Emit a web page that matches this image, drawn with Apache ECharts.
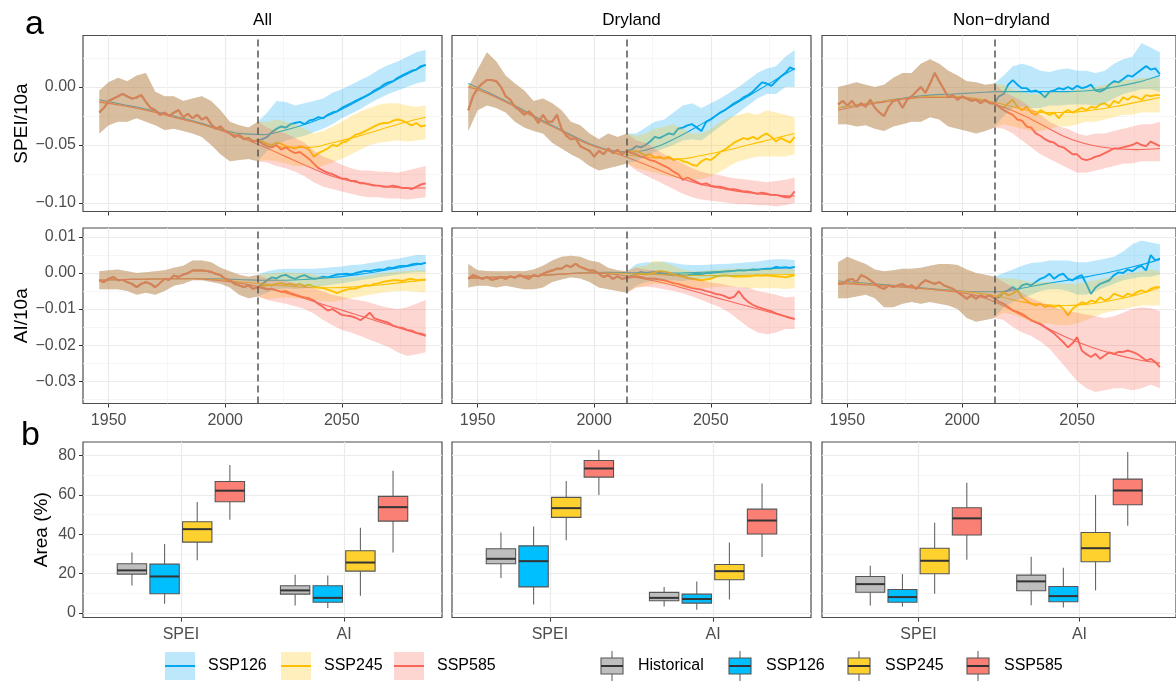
<!DOCTYPE html>
<html>
<head>
<meta charset="utf-8">
<script src="https://cdn.jsdelivr.net/npm/echarts@6.0.0/dist/echarts.min.js"></script>
<style>
html, body { margin: 0; padding: 0; background: #fff; }
#chart { width: 1176px; height: 682px; }
</style>
</head>
<body>
<div id="chart"></div>
<script>
// ---- years ----
const histYears = [1946,1948,1950,1952,1954,1956,1958,1960,1962,1964,1966,1968,1970,1972,1974,1976,1978,1980,1982,1984,1986,1988,1990,1992,1994,1996,1998,2000,2002,2004,2006,2008,2010,2012,2014];
const futYears = [2016,2018,2020,2022,2024,2026,2028,2030,2032,2034,2036,2038,2040,2042,2044,2046,2048,2050,2052,2054,2056,2058,2060,2062,2064,2066,2068,2070,2072,2074,2076,2078,2080,2082,2084,2086];
const histYears4 = [1946,1950,1954,1958,1962,1966,1970,1974,1978,1982,1986,1990,1994,1998,2002,2006,2010,2014];
const futYears4 = [2018,2022,2026,2030,2034,2038,2042,2046,2050,2054,2058,2062,2066,2070,2074,2078,2082,2086];
const smoothYears = [1946,1956,1966,1976,1986,1996,2006,2016,2026,2036,2046,2056,2066,2076,2086];
const scenarios = ['SSP126', 'SSP245', 'SSP585'];
const boxGroups = ['Historical', 'SSP126', 'SSP245', 'SSP585'];
const boxCats = ['SPEI', 'AI'];
const regions = ['All', 'Dryland', 'Non\u2212dryland'];

// ---- All / SPEI ----
const allSpeiHist = [-0.022,-0.018,-0.012,-0.010,-0.008,-0.006,-0.008,-0.010,-0.009,-0.007,-0.013,-0.018,-0.020,-0.024,-0.022,-0.025,-0.022,-0.020,-0.026,-0.023,-0.027,-0.024,-0.028,-0.026,-0.032,-0.036,-0.034,-0.038,-0.040,-0.043,-0.041,-0.045,-0.044,-0.047,-0.046];
const allSpeiHistLo = [-0.040,-0.033,-0.030,-0.030,-0.027,-0.030,-0.033,-0.037,-0.036,-0.038,-0.040,-0.043,-0.050,-0.058,-0.064,-0.063,-0.062,-0.064];
const allSpeiHistHi = [-0.003,0.004,0.008,0.005,0.010,0.012,-0.004,-0.008,-0.008,-0.012,-0.010,-0.008,-0.012,-0.020,-0.030,-0.033,-0.035,-0.030];
const allSpei126 = [-0.045,-0.043,-0.039,-0.036,-0.034,-0.035,-0.032,-0.031,-0.030,-0.032,-0.029,-0.028,-0.026,-0.027,-0.024,-0.022,-0.021,-0.018,-0.016,-0.014,-0.012,-0.010,-0.008,-0.006,-0.003,-0.001,0.002,0.004,0.005,0.008,0.010,0.012,0.014,0.015,0.018,0.019];
const allSpei126Lo = [-0.055,-0.050,-0.046,-0.044,-0.042,-0.039,-0.036,-0.032,-0.027,-0.023,-0.019,-0.014,-0.010,-0.006,-0.003,0.000,0.003,0.005];
const allSpei126Hi = [-0.022,-0.012,-0.013,-0.016,-0.014,-0.012,-0.010,-0.005,-0.002,0.002,0.006,0.010,0.015,0.019,0.022,0.026,0.030,0.032];
const allSpei245 = [-0.047,-0.049,-0.050,-0.048,-0.049,-0.051,-0.052,-0.053,-0.051,-0.052,-0.054,-0.060,-0.057,-0.055,-0.053,-0.050,-0.051,-0.048,-0.047,-0.044,-0.041,-0.040,-0.038,-0.036,-0.034,-0.032,-0.031,-0.031,-0.029,-0.028,-0.029,-0.031,-0.033,-0.031,-0.034,-0.033];
const allSpei245Lo = [-0.063,-0.064,-0.066,-0.068,-0.068,-0.070,-0.068,-0.065,-0.062,-0.058,-0.054,-0.050,-0.048,-0.047,-0.046,-0.047,-0.046,-0.045];
const allSpei245Hi = [-0.030,-0.028,-0.030,-0.032,-0.036,-0.040,-0.038,-0.034,-0.030,-0.025,-0.021,-0.018,-0.015,-0.014,-0.014,-0.016,-0.017,-0.016];
const allSpei585 = [-0.049,-0.051,-0.052,-0.050,-0.054,-0.052,-0.055,-0.057,-0.056,-0.059,-0.062,-0.066,-0.070,-0.072,-0.074,-0.075,-0.077,-0.079,-0.079,-0.081,-0.081,-0.083,-0.083,-0.084,-0.085,-0.085,-0.086,-0.086,-0.085,-0.086,-0.087,-0.087,-0.088,-0.086,-0.084,-0.083];
const allSpei585Lo = [-0.065,-0.068,-0.070,-0.073,-0.077,-0.082,-0.086,-0.088,-0.090,-0.092,-0.094,-0.095,-0.095,-0.096,-0.096,-0.097,-0.096,-0.095];
const allSpei585Hi = [-0.035,-0.038,-0.040,-0.044,-0.048,-0.055,-0.060,-0.063,-0.067,-0.070,-0.072,-0.072,-0.073,-0.073,-0.074,-0.072,-0.070,-0.068];
const allSpeiS126 = [-0.011,-0.015,-0.019,-0.024,-0.029,-0.035,-0.040,-0.041,-0.037,-0.031,-0.023,-0.013,-0.002,0.009,0.019];
const allSpeiS245 = [-0.012,-0.016,-0.020,-0.025,-0.030,-0.036,-0.042,-0.048,-0.052,-0.052,-0.048,-0.043,-0.037,-0.031,-0.026];
const allSpeiS585 = [-0.013,-0.016,-0.020,-0.025,-0.030,-0.036,-0.043,-0.051,-0.060,-0.069,-0.077,-0.082,-0.085,-0.087,-0.087];

// ---- Dryland / SPEI ----
const drySpeiHist = [-0.020,-0.008,-0.001,0.003,0.006,0.006,0.005,0.000,-0.008,-0.011,-0.017,-0.020,-0.024,-0.021,-0.025,-0.031,-0.024,-0.030,-0.030,-0.024,-0.036,-0.042,-0.045,-0.044,-0.051,-0.053,-0.055,-0.060,-0.055,-0.058,-0.053,-0.057,-0.054,-0.058,-0.055];
const drySpeiHistLo = [-0.038,-0.020,-0.016,-0.018,-0.022,-0.030,-0.035,-0.038,-0.040,-0.048,-0.053,-0.058,-0.062,-0.068,-0.072,-0.070,-0.068,-0.066];
const drySpeiHistHi = [0.000,0.015,0.030,0.022,0.010,0.003,-0.003,-0.012,-0.010,-0.014,-0.020,-0.030,-0.033,-0.040,-0.045,-0.040,-0.043,-0.040];
const drySpei126 = [-0.054,-0.051,-0.052,-0.050,-0.047,-0.043,-0.044,-0.042,-0.040,-0.041,-0.036,-0.035,-0.033,-0.032,-0.035,-0.038,-0.030,-0.028,-0.025,-0.022,-0.020,-0.017,-0.014,-0.012,-0.009,-0.007,-0.004,0.000,0.004,0.003,0.001,0.005,0.009,0.012,0.017,0.015];
const drySpei126Lo = [-0.064,-0.060,-0.056,-0.053,-0.050,-0.046,-0.045,-0.046,-0.040,-0.034,-0.028,-0.022,-0.016,-0.010,-0.006,-0.006,0.000,0.000];
const drySpei126Hi = [-0.040,-0.035,-0.030,-0.028,-0.022,-0.016,-0.014,-0.018,-0.014,-0.010,-0.005,0.000,0.006,0.012,0.016,0.018,0.026,0.032];
const drySpei245 = [-0.056,-0.055,-0.057,-0.059,-0.058,-0.061,-0.060,-0.062,-0.060,-0.063,-0.062,-0.064,-0.065,-0.067,-0.068,-0.064,-0.062,-0.063,-0.060,-0.056,-0.054,-0.051,-0.048,-0.046,-0.044,-0.045,-0.043,-0.045,-0.042,-0.040,-0.043,-0.047,-0.044,-0.046,-0.048,-0.043];
const drySpei245Lo = [-0.070,-0.072,-0.074,-0.076,-0.078,-0.079,-0.080,-0.079,-0.077,-0.073,-0.068,-0.064,-0.062,-0.060,-0.060,-0.060,-0.060,-0.058];
const drySpei245Hi = [-0.042,-0.040,-0.036,-0.034,-0.032,-0.036,-0.040,-0.040,-0.036,-0.030,-0.026,-0.024,-0.022,-0.024,-0.020,-0.022,-0.024,-0.026];
const drySpei585 = [-0.057,-0.058,-0.060,-0.061,-0.063,-0.064,-0.066,-0.068,-0.070,-0.073,-0.075,-0.080,-0.078,-0.080,-0.082,-0.084,-0.083,-0.085,-0.086,-0.086,-0.087,-0.088,-0.088,-0.089,-0.090,-0.090,-0.091,-0.092,-0.091,-0.092,-0.093,-0.093,-0.094,-0.095,-0.095,-0.090];
const drySpei585Lo = [-0.072,-0.076,-0.080,-0.084,-0.088,-0.092,-0.095,-0.097,-0.098,-0.099,-0.100,-0.101,-0.101,-0.102,-0.102,-0.103,-0.102,-0.100];
const drySpei585Hi = [-0.046,-0.048,-0.053,-0.058,-0.062,-0.066,-0.070,-0.073,-0.075,-0.076,-0.078,-0.079,-0.080,-0.081,-0.082,-0.081,-0.080,-0.078];
const drySpeiS126 = [0.003,-0.006,-0.016,-0.027,-0.037,-0.047,-0.054,-0.056,-0.052,-0.043,-0.032,-0.020,-0.008,0.004,0.016];
const drySpeiS245 = [0.001,-0.007,-0.017,-0.028,-0.038,-0.048,-0.055,-0.059,-0.061,-0.062,-0.059,-0.055,-0.050,-0.045,-0.040];
const drySpeiS585 = [0.000,-0.007,-0.017,-0.028,-0.038,-0.048,-0.055,-0.062,-0.070,-0.078,-0.084,-0.088,-0.091,-0.093,-0.094];

// ---- Non-dryland / SPEI ----
const nonSpeiHist = [-0.015,-0.012,-0.016,-0.012,-0.017,-0.014,-0.017,-0.011,-0.018,-0.022,-0.025,-0.017,-0.012,-0.011,-0.018,-0.011,-0.008,-0.004,0.000,-0.005,0.003,0.012,0.005,-0.002,-0.009,-0.007,-0.011,-0.008,-0.010,-0.012,-0.011,-0.014,-0.011,-0.014,-0.014];
const nonSpeiHistLo = [-0.032,-0.032,-0.034,-0.033,-0.036,-0.038,-0.034,-0.032,-0.030,-0.030,-0.026,-0.028,-0.034,-0.036,-0.038,-0.040,-0.038,-0.035];
const nonSpeiHistHi = [0.000,0.002,0.004,0.002,0.000,0.002,0.008,0.012,0.012,0.020,0.024,0.020,0.014,0.010,0.005,0.004,0.002,0.003];
const nonSpei126 = [-0.008,-0.006,0.002,0.006,0.002,-0.001,-0.001,-0.004,-0.003,-0.005,-0.009,-0.004,-0.003,-0.001,-0.002,0.000,-0.002,0.001,-0.001,0.000,0.002,-0.003,-0.004,-0.002,0.002,0.005,0.004,0.007,0.010,0.009,0.012,0.015,0.018,0.015,0.016,0.011];
const nonSpei126Lo = [-0.025,-0.018,-0.017,-0.018,-0.018,-0.016,-0.016,-0.015,-0.015,-0.015,-0.016,-0.014,-0.010,-0.006,-0.004,-0.002,-0.002,-0.004];
const nonSpei126Hi = [0.010,0.018,0.020,0.018,0.014,0.013,0.015,0.016,0.014,0.014,0.012,0.014,0.020,0.024,0.026,0.038,0.034,0.030];
const nonSpei245 = [-0.017,-0.018,-0.014,-0.011,-0.017,-0.020,-0.017,-0.022,-0.024,-0.020,-0.022,-0.024,-0.022,-0.027,-0.022,-0.020,-0.022,-0.020,-0.018,-0.020,-0.017,-0.018,-0.015,-0.014,-0.017,-0.012,-0.014,-0.009,-0.011,-0.008,-0.009,-0.011,-0.007,-0.008,-0.007,-0.007];
const nonSpei245Lo = [-0.032,-0.034,-0.036,-0.038,-0.038,-0.036,-0.034,-0.034,-0.032,-0.030,-0.030,-0.028,-0.026,-0.024,-0.024,-0.022,-0.022,-0.022];
const nonSpei245Hi = [0.002,-0.002,-0.004,-0.006,-0.006,-0.004,-0.004,-0.004,-0.002,-0.002,0.000,0.002,0.004,0.006,0.006,0.008,0.008,0.008];
const nonSpei585 = [-0.017,-0.020,-0.022,-0.024,-0.028,-0.029,-0.034,-0.035,-0.040,-0.042,-0.045,-0.047,-0.048,-0.051,-0.052,-0.055,-0.058,-0.058,-0.062,-0.063,-0.062,-0.060,-0.059,-0.057,-0.055,-0.053,-0.053,-0.052,-0.051,-0.050,-0.048,-0.050,-0.051,-0.047,-0.049,-0.051];
const nonSpei585Lo = [-0.036,-0.040,-0.046,-0.052,-0.058,-0.062,-0.066,-0.070,-0.074,-0.074,-0.072,-0.070,-0.068,-0.066,-0.066,-0.064,-0.064,-0.064];
const nonSpei585Hi = [-0.004,-0.008,-0.012,-0.018,-0.024,-0.030,-0.034,-0.036,-0.040,-0.042,-0.040,-0.040,-0.038,-0.036,-0.034,-0.032,-0.032,-0.030];
const nonSpeiS126 = [-0.018,-0.015,-0.012,-0.009,-0.007,-0.006,-0.005,-0.004,-0.004,-0.004,-0.004,-0.003,0.000,0.004,0.010];
const nonSpeiS245 = [-0.018,-0.015,-0.012,-0.010,-0.008,-0.008,-0.010,-0.014,-0.019,-0.022,-0.022,-0.020,-0.017,-0.013,-0.009];
const nonSpeiS585 = [-0.020,-0.016,-0.013,-0.010,-0.009,-0.009,-0.011,-0.016,-0.024,-0.034,-0.044,-0.050,-0.053,-0.054,-0.053];

// ---- All / AI ----
const allAiHist = [-0.0020,-0.0025,-0.0016,-0.0011,-0.0020,-0.0019,-0.0025,-0.0030,-0.0039,-0.0030,-0.0025,-0.0030,-0.0039,-0.0028,-0.0016,-0.0019,-0.0007,-0.0011,-0.0004,0.0000,0.0007,0.0007,0.0007,0.0006,0.0003,-0.0002,-0.0006,-0.0016,-0.0020,-0.0030,-0.0034,-0.0039,-0.0034,-0.0044,-0.0039];
const allAiHistLo = [-0.0045,-0.0045,-0.0045,-0.0050,-0.0060,-0.0055,-0.0060,-0.0050,-0.0035,-0.0030,-0.0020,-0.0020,-0.0025,-0.0030,-0.0040,-0.0060,-0.0070,-0.0065];
const allAiHistHi = [0.0005,0.0008,0.0010,0.0005,0.0000,0.0002,0.0005,0.0008,0.0015,0.0020,0.0035,0.0035,0.0030,0.0015,0.0005,-0.0005,-0.0010,-0.0005];
const allAi126 = [-0.0030,-0.0020,-0.0012,-0.0015,-0.0008,-0.0005,-0.0012,-0.0016,-0.0010,-0.0006,-0.0012,-0.0016,-0.0014,-0.0010,-0.0012,-0.0008,-0.0004,-0.0003,-0.0002,-0.0004,0.0000,0.0003,0.0006,0.0005,0.0008,0.0010,0.0009,0.0015,0.0014,0.0018,0.0020,0.0020,0.0024,0.0026,0.0025,0.0029];
const allAi126Lo = [-0.0055,-0.0045,-0.0042,-0.0044,-0.0042,-0.0040,-0.0036,-0.0032,-0.0028,-0.0024,-0.0020,-0.0016,-0.0012,-0.0008,-0.0004,0.0000,0.0002,0.0002];
const allAi126Hi = [0.0005,0.0010,0.0012,0.0012,0.0012,0.0012,0.0014,0.0016,0.0018,0.0022,0.0024,0.0028,0.0032,0.0036,0.0040,0.0045,0.0050,0.0050];
const allAi245 = [-0.0036,-0.0034,-0.0034,-0.0030,-0.0028,-0.0032,-0.0030,-0.0034,-0.0030,-0.0036,-0.0032,-0.0038,-0.0040,-0.0042,-0.0046,-0.0050,-0.0056,-0.0050,-0.0046,-0.0044,-0.0043,-0.0038,-0.0034,-0.0035,-0.0030,-0.0028,-0.0024,-0.0022,-0.0020,-0.0020,-0.0022,-0.0018,-0.0016,-0.0020,-0.0019,-0.0018];
const allAi245Lo = [-0.0072,-0.0070,-0.0068,-0.0070,-0.0072,-0.0075,-0.0078,-0.0080,-0.0075,-0.0070,-0.0065,-0.0060,-0.0056,-0.0052,-0.0050,-0.0050,-0.0052,-0.0055];
const allAi245Hi = [-0.0002,0.0000,0.0002,0.0000,0.0000,-0.0004,-0.0010,-0.0014,-0.0014,-0.0012,-0.0010,-0.0006,-0.0002,0.0002,0.0004,0.0006,0.0008,0.0008];
const allAi585 = [-0.0042,-0.0046,-0.0043,-0.0048,-0.0052,-0.0050,-0.0056,-0.0060,-0.0064,-0.0068,-0.0070,-0.0076,-0.0086,-0.0094,-0.0104,-0.0100,-0.0108,-0.0116,-0.0118,-0.0120,-0.0124,-0.0131,-0.0122,-0.0110,-0.0126,-0.0130,-0.0134,-0.0138,-0.0146,-0.0150,-0.0152,-0.0158,-0.0160,-0.0166,-0.0168,-0.0173];
const allAi585Lo = [-0.0075,-0.0080,-0.0085,-0.0092,-0.0100,-0.0112,-0.0130,-0.0145,-0.0158,-0.0165,-0.0175,-0.0185,-0.0195,-0.0205,-0.0220,-0.0230,-0.0225,-0.0220];
const allAi585Hi = [-0.0015,-0.0018,-0.0022,-0.0028,-0.0034,-0.0042,-0.0052,-0.0060,-0.0066,-0.0072,-0.0076,-0.0082,-0.0090,-0.0096,-0.0100,-0.0095,-0.0085,-0.0075];
const allAiS126 = [-0.0020,-0.0018,-0.0017,-0.0016,-0.0015,-0.0016,-0.0018,-0.0020,-0.0020,-0.0017,-0.0012,-0.0005,0.0005,0.0016,0.0028];
const allAiS245 = [-0.0020,-0.0018,-0.0017,-0.0016,-0.0016,-0.0018,-0.0024,-0.0030,-0.0036,-0.0040,-0.0041,-0.0038,-0.0033,-0.0026,-0.0019];
const allAiS585 = [-0.0020,-0.0018,-0.0017,-0.0016,-0.0016,-0.0020,-0.0028,-0.0040,-0.0055,-0.0075,-0.0095,-0.0115,-0.0135,-0.0155,-0.0175];

// ---- Dryland / AI ----
const dryAiHist = [-0.0016,-0.0006,-0.0011,-0.0016,-0.0011,-0.0019,-0.0016,-0.0011,-0.0016,-0.0009,-0.0013,-0.0006,-0.0011,-0.0016,-0.0006,-0.0009,-0.0002,0.0003,0.0007,0.0012,0.0012,0.0021,0.0017,0.0026,0.0017,0.0012,0.0007,0.0007,-0.0002,-0.0011,-0.0006,-0.0016,-0.0009,-0.0016,-0.0013];
const dryAiHistLo = [-0.0040,-0.0035,-0.0035,-0.0040,-0.0035,-0.0040,-0.0045,-0.0045,-0.0040,-0.0025,-0.0018,-0.0012,-0.0015,-0.0025,-0.0040,-0.0045,-0.0050,-0.0055];
const dryAiHistHi = [0.0025,0.0008,0.0006,0.0005,0.0005,0.0006,0.0005,0.0010,0.0020,0.0035,0.0045,0.0048,0.0045,0.0035,0.0030,0.0015,0.0008,0.0005];
const dryAi126 = [-0.0008,-0.0002,0.0003,0.0000,0.0002,0.0003,0.0000,-0.0002,-0.0004,-0.0006,-0.0004,-0.0007,-0.0006,-0.0004,-0.0002,-0.0003,0.0000,0.0000,0.0002,0.0003,0.0004,0.0005,0.0006,0.0008,0.0007,0.0008,0.0010,0.0009,0.0011,0.0012,0.0012,0.0017,0.0015,0.0016,0.0014,0.0017];
const dryAi126Lo = [-0.0035,-0.0025,-0.0022,-0.0020,-0.0020,-0.0022,-0.0018,-0.0016,-0.0014,-0.0012,-0.0010,-0.0008,-0.0006,-0.0005,-0.0004,-0.0002,-0.0002,-0.0001];
const dryAi126Hi = [0.0025,0.0030,0.0030,0.0032,0.0028,0.0024,0.0022,0.0022,0.0024,0.0025,0.0026,0.0028,0.0030,0.0032,0.0036,0.0038,0.0038,0.0036];
const dryAi245 = [-0.0010,-0.0006,-0.0002,-0.0004,-0.0002,0.0002,0.0006,0.0004,0.0002,-0.0004,-0.0008,-0.0010,-0.0014,-0.0016,-0.0018,-0.0020,-0.0018,-0.0016,-0.0010,-0.0008,-0.0006,-0.0008,-0.0010,-0.0009,-0.0010,-0.0009,-0.0008,-0.0006,-0.0008,-0.0006,-0.0008,-0.0009,-0.0010,-0.0012,-0.0009,-0.0006];
const dryAi245Lo = [-0.0040,-0.0035,-0.0030,-0.0030,-0.0035,-0.0040,-0.0042,-0.0042,-0.0040,-0.0038,-0.0038,-0.0040,-0.0042,-0.0042,-0.0042,-0.0042,-0.0044,-0.0042];
const dryAi245Hi = [0.0018,0.0020,0.0035,0.0030,0.0020,0.0010,0.0005,0.0005,0.0008,0.0010,0.0012,0.0012,0.0012,0.0012,0.0012,0.0012,0.0012,0.0012];
const dryAi585 = [-0.0012,-0.0010,-0.0011,-0.0014,-0.0015,-0.0016,-0.0018,-0.0020,-0.0024,-0.0028,-0.0030,-0.0034,-0.0038,-0.0042,-0.0044,-0.0046,-0.0050,-0.0053,-0.0058,-0.0060,-0.0064,-0.0070,-0.0066,-0.0050,-0.0068,-0.0080,-0.0088,-0.0094,-0.0098,-0.0102,-0.0106,-0.0112,-0.0116,-0.0120,-0.0124,-0.0127];
const dryAi585Lo = [-0.0040,-0.0038,-0.0040,-0.0045,-0.0050,-0.0056,-0.0065,-0.0075,-0.0085,-0.0095,-0.0110,-0.0130,-0.0150,-0.0165,-0.0170,-0.0165,-0.0155,-0.0155];
const dryAi585Hi = [0.0015,0.0010,0.0008,0.0005,0.0000,-0.0005,-0.0012,-0.0020,-0.0026,-0.0030,-0.0035,-0.0040,-0.0040,-0.0050,-0.0055,-0.0060,-0.0068,-0.0065];
const dryAiS126 = [-0.0014,-0.0012,-0.0010,-0.0007,-0.0003,0.0001,0.0002,0.0001,0.0000,0.0000,0.0002,0.0005,0.0008,0.0012,0.0016];
const dryAiS245 = [-0.0014,-0.0012,-0.0010,-0.0007,-0.0003,0.0000,0.0000,-0.0002,-0.0004,-0.0006,-0.0007,-0.0007,-0.0006,-0.0005,-0.0004];
const dryAiS585 = [-0.0014,-0.0012,-0.0010,-0.0007,-0.0003,0.0000,-0.0002,-0.0010,-0.0022,-0.0038,-0.0056,-0.0075,-0.0092,-0.0110,-0.0128];

// ---- Non-dryland / AI ----
const nonAiHist = [-0.0030,-0.0030,-0.0020,-0.0016,-0.0025,-0.0006,-0.0011,-0.0020,-0.0030,-0.0039,-0.0044,-0.0034,-0.0039,-0.0034,-0.0030,-0.0039,-0.0034,-0.0044,-0.0030,-0.0020,-0.0025,-0.0030,-0.0025,-0.0034,-0.0039,-0.0044,-0.0053,-0.0062,-0.0071,-0.0062,-0.0071,-0.0062,-0.0067,-0.0062,-0.0070];
const nonAiHistLo = [-0.0070,-0.0070,-0.0065,-0.0060,-0.0070,-0.0095,-0.0095,-0.0085,-0.0080,-0.0085,-0.0080,-0.0085,-0.0090,-0.0100,-0.0125,-0.0135,-0.0130,-0.0125];
const nonAiHistHi = [0.0030,0.0045,0.0035,0.0025,0.0010,0.0005,0.0008,0.0012,0.0012,0.0015,0.0020,0.0025,0.0025,0.0022,0.0010,0.0000,-0.0005,-0.0010];
const nonAi126 = [-0.0067,-0.0053,-0.0048,-0.0039,-0.0048,-0.0034,-0.0030,-0.0034,-0.0025,-0.0016,-0.0011,-0.0002,-0.0016,-0.0006,-0.0002,-0.0016,-0.0020,-0.0011,-0.0006,-0.0030,-0.0058,-0.0040,-0.0030,-0.0025,-0.0020,-0.0006,0.0002,0.0000,0.0010,0.0005,0.0015,0.0020,0.0007,0.0050,0.0035,0.0040];
const nonAi126Lo = [-0.0095,-0.0080,-0.0070,-0.0060,-0.0050,-0.0045,-0.0045,-0.0050,-0.0060,-0.0060,-0.0050,-0.0040,-0.0030,-0.0020,-0.0015,-0.0010,-0.0010,-0.0005];
const nonAi126Hi = [0.0000,0.0010,0.0020,0.0028,0.0030,0.0035,0.0035,0.0035,0.0030,0.0030,0.0035,0.0040,0.0045,0.0060,0.0080,0.0090,0.0085,0.0080];
const nonAi245 = [-0.0062,-0.0053,-0.0062,-0.0057,-0.0048,-0.0067,-0.0076,-0.0085,-0.0090,-0.0085,-0.0094,-0.0090,-0.0094,-0.0090,-0.0099,-0.0118,-0.0099,-0.0090,-0.0081,-0.0085,-0.0076,-0.0081,-0.0067,-0.0076,-0.0071,-0.0057,-0.0062,-0.0067,-0.0057,-0.0062,-0.0053,-0.0048,-0.0053,-0.0044,-0.0039,-0.0039];
const nonAi245Lo = [-0.0110,-0.0115,-0.0125,-0.0135,-0.0140,-0.0140,-0.0145,-0.0145,-0.0140,-0.0130,-0.0120,-0.0110,-0.0105,-0.0100,-0.0095,-0.0090,-0.0090,-0.0090];
const nonAi245Hi = [-0.0015,-0.0015,-0.0020,-0.0025,-0.0025,-0.0025,-0.0030,-0.0030,-0.0030,-0.0025,-0.0020,-0.0015,-0.0010,-0.0005,0.0000,0.0005,0.0010,0.0005];
const nonAi585 = [-0.0080,-0.0085,-0.0094,-0.0104,-0.0108,-0.0113,-0.0122,-0.0131,-0.0136,-0.0141,-0.0150,-0.0159,-0.0168,-0.0180,-0.0192,-0.0206,-0.0195,-0.0178,-0.0215,-0.0225,-0.0233,-0.0224,-0.0238,-0.0229,-0.0220,-0.0224,-0.0219,-0.0219,-0.0215,-0.0219,-0.0224,-0.0233,-0.0243,-0.0238,-0.0247,-0.0261];
const nonAi585Lo = [-0.0130,-0.0150,-0.0165,-0.0175,-0.0190,-0.0210,-0.0240,-0.0270,-0.0300,-0.0320,-0.0330,-0.0325,-0.0320,-0.0320,-0.0325,-0.0320,-0.0310,-0.0320];
const nonAi585Hi = [-0.0025,-0.0040,-0.0055,-0.0070,-0.0080,-0.0090,-0.0100,-0.0105,-0.0110,-0.0115,-0.0120,-0.0125,-0.0120,-0.0110,-0.0100,-0.0095,-0.0098,-0.0105];
const nonAiS126 = [-0.0022,-0.0027,-0.0032,-0.0037,-0.0043,-0.0048,-0.0052,-0.0052,-0.0042,-0.0030,-0.0020,-0.0008,0.0005,0.0020,0.0038];
const nonAiS245 = [-0.0025,-0.0030,-0.0035,-0.0040,-0.0045,-0.0050,-0.0055,-0.0065,-0.0080,-0.0088,-0.0090,-0.0085,-0.0075,-0.0060,-0.0040];
const nonAiS585 = [-0.0028,-0.0032,-0.0036,-0.0040,-0.0045,-0.0052,-0.0062,-0.0085,-0.0118,-0.0150,-0.0180,-0.0205,-0.0225,-0.0240,-0.0250];

// ---- box plots: [min, Q1, median, Q3, max] for SPEI, AI ----
const allBoxHist = [[13.9,19.7,21.6,25.0,30.7],[3.7,9.5,11.4,13.8,19.4]];
const allBox126 = [[4.6,9.7,18.5,24.8,35.0],[2.4,5.4,7.6,13.8,19.0]];
const allBox245 = [[26.7,36.0,42.6,46.4,56.4],[8.7,21.2,25.6,31.6,43.3]];
const allBox585 = [[47.4,56.6,62.2,66.9,75.3],[30.7,46.7,53.8,59.3,72.4]];
const dryBoxHist = [[17.7,25.0,27.5,32.6,40.9],[3.2,6.1,7.6,10.4,13.1]];
const dryBox126 = [[4.2,13.2,26.3,34.1,44.0],[1.5,4.9,7.0,9.5,16.0]];
const dryBox245 = [[37.0,48.6,53.3,58.8,67.1],[6.8,16.8,21.2,24.6,35.8]];
const dryBox585 = [[60.0,69.1,73.5,77.6,83.1],[28.4,40.1,47.0,52.8,65.9]];
const nonBoxHist = [[3.7,10.5,14.6,18.5,24.0],[3.9,11.2,16.0,19.2,28.5]];
const nonBox126 = [[3.1,5.4,8.0,11.9,19.7],[2.7,5.6,8.5,13.4,22.9]];
const nonBox245 = [[9.7,19.9,26.5,32.9,45.9],[11.4,26.0,32.9,40.9,60.1]];
const nonBox585 = [[27.0,39.6,48.1,53.5,66.2],[44.3,55.0,62.3,68.1,81.9]];

// ---- styling ----
const FONT = '"Liberation Sans", Arial, Helvetica, sans-serif';
const lineColors = ['#00A6EE', '#FFC000', '#F9675A'];
const ribbonColors = ['rgba(0,166,238,0.26)', 'rgba(255,192,0,0.26)', 'rgba(249,103,90,0.28)'];
const boxColors = ['#BEBEBE', '#00BFFF', '#FFD12F', '#FA7F75'];
const colLeft = [83, 452, 822];
const colWidth = 359;
const rowTop = [35.5, 228, 442];
const rowHeight = [176, 175.5, 175.5];

function signed(d) {
  return function (v) {
    return (v < -1e-9 ? '\u2212' : '') + Math.abs(v).toFixed(d);
  };
}

const rows = [
  { xMin: 1939, xMax: 2093, xMajor: [1950, 2000, 2050], xMinor: [1975, 2025, 2075], xLabels: false, xFmt: function (v) { return String(v); },
    yMin: -0.1073, yMax: 0.0444, yMajor: [-0.10, -0.05, 0], yMinor: [-0.075, -0.025, 0.025], yFmt: signed(2), name: 'SPEI/10a', gap: 52 },
  { xMin: 1939, xMax: 2093, xMajor: [1950, 2000, 2050], xMinor: [1975, 2025, 2075], xLabels: true, xFmt: function (v) { return String(v); },
    yMin: -0.0362, yMax: 0.0125, yMajor: [-0.03, -0.02, -0.01, 0, 0.01], yMinor: [-0.035, -0.025, -0.015, -0.005, 0.005], yFmt: signed(2), name: 'AI/10a', gap: 52 },
  { xMin: 0.4, xMax: 2.6, xMajor: [1, 2], xMinor: [], xLabels: true, xFmt: function (v) { return boxCats[Math.round(v) - 1]; },
    yMin: -2.4, yMax: 87, yMajor: [0, 20, 40, 60, 80], yMinor: [10, 30, 50, 70], yFmt: function (v) { return String(v); }, name: 'Area (%)', gap: 32 }
];

const grid = [], xAxis = [], yAxis = [];
const majorLine = { color: '#EBEBEB', width: 1.2 };
const minorLine = { color: '#F4F4F4', width: 0.8 };
for (let r = 0; r < 3; r++) {
  for (let c = 0; c < 3; c++) {
    const g = r * 3 + c;
    const R = rows[r];
    grid.push({ left: colLeft[c], top: rowTop[r], width: colWidth, height: rowHeight[r], show: true,
      borderColor: '#4D4D4D', borderWidth: 1.2, backgroundColor: 'transparent' });
    xAxis.push({ type: 'value', gridIndex: g, position: 'bottom', min: R.xMin, max: R.xMax,
      axisLine: { show: false, onZero: false },
      axisTick: { show: true, customValues: R.xMajor, length: 4, lineStyle: { color: '#333', width: 1 } },
      axisLabel: { show: R.xLabels, customValues: R.xMajor, formatter: R.xFmt, color: '#4D4D4D', fontSize: 16, fontFamily: FONT, margin: 9 },
      splitLine: { show: true, lineStyle: majorLine } });
    xAxis.push({ type: 'value', gridIndex: g, position: 'top', min: R.xMin, max: R.xMax,
      axisLine: { show: false, onZero: false },
      axisTick: { show: false, customValues: R.xMinor },
      axisLabel: { show: false, customValues: R.xMinor },
      splitLine: { show: R.xMinor.length > 0, lineStyle: minorLine } });
    yAxis.push({ type: 'value', gridIndex: g, position: 'left', min: R.yMin, max: R.yMax,
      name: c === 0 ? R.name : '', nameLocation: 'middle', nameGap: R.gap,
      nameTextStyle: { color: '#000', fontSize: 19, fontFamily: FONT },
      axisLine: { show: false, onZero: false },
      axisTick: { show: c === 0, customValues: R.yMajor, length: 4, lineStyle: { color: '#333', width: 1 } },
      axisLabel: { show: c === 0, customValues: R.yMajor, formatter: R.yFmt, color: '#4D4D4D', fontSize: 16, fontFamily: FONT, margin: 7 },
      splitLine: { show: true, lineStyle: majorLine } });
    yAxis.push({ type: 'value', gridIndex: g, position: 'right', min: R.yMin, max: R.yMax,
      axisLine: { show: false, onZero: false },
      axisTick: { show: false, customValues: R.yMinor },
      axisLabel: { show: false, customValues: R.yMinor },
      splitLine: { show: true, lineStyle: minorLine } });
  }
}

const linePanels = [
  { g: 0, hist: allSpeiHist, histLo: allSpeiHistLo, histHi: allSpeiHistHi, fut: [allSpei126, allSpei245, allSpei585], lo: [allSpei126Lo, allSpei245Lo, allSpei585Lo], hi: [allSpei126Hi, allSpei245Hi, allSpei585Hi], smooth: [allSpeiS126, allSpeiS245, allSpeiS585] },
  { g: 1, hist: drySpeiHist, histLo: drySpeiHistLo, histHi: drySpeiHistHi, fut: [drySpei126, drySpei245, drySpei585], lo: [drySpei126Lo, drySpei245Lo, drySpei585Lo], hi: [drySpei126Hi, drySpei245Hi, drySpei585Hi], smooth: [drySpeiS126, drySpeiS245, drySpeiS585] },
  { g: 2, hist: nonSpeiHist, histLo: nonSpeiHistLo, histHi: nonSpeiHistHi, fut: [nonSpei126, nonSpei245, nonSpei585], lo: [nonSpei126Lo, nonSpei245Lo, nonSpei585Lo], hi: [nonSpei126Hi, nonSpei245Hi, nonSpei585Hi], smooth: [nonSpeiS126, nonSpeiS245, nonSpeiS585] },
  { g: 3, hist: allAiHist, histLo: allAiHistLo, histHi: allAiHistHi, fut: [allAi126, allAi245, allAi585], lo: [allAi126Lo, allAi245Lo, allAi585Lo], hi: [allAi126Hi, allAi245Hi, allAi585Hi], smooth: [allAiS126, allAiS245, allAiS585] },
  { g: 4, hist: dryAiHist, histLo: dryAiHistLo, histHi: dryAiHistHi, fut: [dryAi126, dryAi245, dryAi585], lo: [dryAi126Lo, dryAi245Lo, dryAi585Lo], hi: [dryAi126Hi, dryAi245Hi, dryAi585Hi], smooth: [dryAiS126, dryAiS245, dryAiS585] },
  { g: 5, hist: nonAiHist, histLo: nonAiHistLo, histHi: nonAiHistHi, fut: [nonAi126, nonAi245, nonAi585], lo: [nonAi126Lo, nonAi245Lo, nonAi585Lo], hi: [nonAi126Hi, nonAi245Hi, nonAi585Hi], smooth: [nonAiS126, nonAiS245, nonAiS585] }
];
const boxPanels = [
  { g: 6, groups: [allBoxHist, allBox126, allBox245, allBox585] },
  { g: 7, groups: [dryBoxHist, dryBox126, dryBox245, dryBox585] },
  { g: 8, groups: [nonBoxHist, nonBox126, nonBox245, nonBox585] }
];

// ribbon polygon through the axis scales
function ribbonRenderer(band, fill) {
  return function (params, api) {
    if (params.dataIndex !== 0) return null;
    const top = [], bottom = [];
    band.forEach(function (d) {
      top.push(api.coord([d[0], d[2]]));
      bottom.push(api.coord([d[0], d[1]]));
    });
    return { type: 'polygon', shape: { points: top.concat(bottom.reverse()) }, style: { fill: fill } };
  };
}

function boxRenderer(gi) {
  return function (params, api) {
    const x = api.value(0) + (gi - 1.5) * 0.2;   // dodge
    const w = api.size([0.18, 0])[0];
    const pMin = api.coord([x, api.value(1)]);
    const pQ1 = api.coord([x, api.value(2)]);
    const pMed = api.coord([x, api.value(3)]);
    const pQ3 = api.coord([x, api.value(4)]);
    const pMax = api.coord([x, api.value(5)]);
    return { type: 'group', children: [
      { type: 'line', shape: { x1: pMax[0], y1: pMax[1], x2: pQ3[0], y2: pQ3[1] }, style: { stroke: '#666', lineWidth: 1.1 } },
      { type: 'line', shape: { x1: pQ1[0], y1: pQ1[1], x2: pMin[0], y2: pMin[1] }, style: { stroke: '#666', lineWidth: 1.1 } },
      { type: 'rect', shape: { x: pQ3[0] - w / 2, y: pQ3[1], width: w, height: pQ1[1] - pQ3[1] }, style: { fill: boxColors[gi], stroke: '#555', lineWidth: 1.1 } },
      { type: 'line', shape: { x1: pMed[0] - w / 2, y1: pMed[1], x2: pMed[0] + w / 2, y2: pMed[1] }, style: { stroke: '#333', lineWidth: 2 } }
    ] };
  };
}

const series = [];
linePanels.forEach(function (p) {
  const ax = { xAxisIndex: 2 * p.g, yAxisIndex: 2 * p.g };
  for (let s = 0; s < 3; s++) {
    const raw = histYears.map(function (y, i) { return [y, p.hist[i]]; })
      .concat(futYears.map(function (y, i) { return [y, p.fut[s][i]]; }));
    series.push(Object.assign({ type: 'line', name: scenarios[s], data: raw, symbol: 'none', silent: true, z: 2,
      lineStyle: { color: lineColors[s], width: 1.9 } }, ax));
    const sm = smoothYears.map(function (y, i) { return [y, p.smooth[s][i]]; });
    series.push(Object.assign({ type: 'line', name: scenarios[s] + ' fit', data: sm, symbol: 'none', smooth: 0.4, silent: true, z: 2,
      lineStyle: { color: lineColors[s], width: 1.1 } }, ax));
  }
  for (let s = 0; s < 3; s++) {
    const band = histYears4.map(function (y, i) { return [y, p.histLo[i], p.histHi[i]]; })
      .concat(futYears4.map(function (y, i) { return [y, p.lo[s][i], p.hi[s][i]]; }));
    const item = Object.assign({ type: 'custom', name: scenarios[s] + ' range', data: band, encode: { x: 0, y: [1, 2] },
      renderItem: ribbonRenderer(band, ribbonColors[s]), silent: true, clip: true, z: 3 }, ax);
    if (s === 2) {
      item.markLine = { silent: true, symbol: 'none', z: 6, label: { show: false },
        lineStyle: { color: '#555', width: 1.5, type: [7, 4] }, data: [{ xAxis: 2014 }] };
    }
    series.push(item);
  }
});
boxPanels.forEach(function (p) {
  p.groups.forEach(function (grp, gi) {
    const data = grp.map(function (v, ci) { return [ci + 1].concat(v); });
    series.push({ type: 'custom', name: boxGroups[gi], xAxisIndex: 2 * p.g, yAxisIndex: 2 * p.g, data: data,
      encode: { x: 0, y: [1, 2, 3, 4, 5] }, renderItem: boxRenderer(gi), silent: true, z: 3 });
  });
});

// ---- titles, panel letters, legends ----
const graphic = [];
function txt(x, y, text, size, align) {
  graphic.push({ type: 'text', x: x, y: y, silent: true,
    style: { text: text, fontSize: size, fontFamily: FONT, fill: '#000', align: align || 'left', verticalAlign: 'middle' } });
}
for (let c = 0; c < 3; c++) txt(colLeft[c] + colWidth / 2, 20, regions[c], 17, 'center');
txt(25, 25, 'a', 34);
txt(21, 436, 'b', 34);

const leg1Key = [165, 281, 394];
scenarios.forEach(function (name, s) {
  const kx = leg1Key[s];
  graphic.push({ type: 'rect', silent: true, shape: { x: kx, y: 652, width: 30, height: 28 }, style: { fill: ribbonColors[s] } });
  graphic.push({ type: 'line', silent: true, shape: { x1: kx, y1: 666, x2: kx + 30, y2: 666 }, style: { stroke: lineColors[s], lineWidth: 2 } });
  txt(kx + 43, 666, name, 16);
});
const leg2Key = [598, 726, 845, 964];
boxGroups.forEach(function (name, gi) {
  const kx = leg2Key[gi], cx = kx + 14;
  graphic.push({ type: 'line', silent: true, shape: { x1: cx, y1: 651, x2: cx, y2: 681 }, style: { stroke: '#666', lineWidth: 1.1 } });
  graphic.push({ type: 'rect', silent: true, shape: { x: kx + 3, y: 658, width: 22, height: 16 }, style: { fill: boxColors[gi], stroke: '#555', lineWidth: 1.1 } });
  graphic.push({ type: 'line', silent: true, shape: { x1: kx + 3, y1: 666, x2: kx + 25, y2: 666 }, style: { stroke: '#333', lineWidth: 2 } });
  txt(kx + 40, 666, name, 16);
});

const chart = echarts.init(document.getElementById('chart'), null, { renderer: 'canvas' });
chart.setOption({
  animation: false,
  backgroundColor: '#fff',
  textStyle: { fontFamily: FONT },
  grid: grid,
  xAxis: xAxis,
  yAxis: yAxis,
  series: series,
  graphic: graphic
});
</script>
</body>
</html>
